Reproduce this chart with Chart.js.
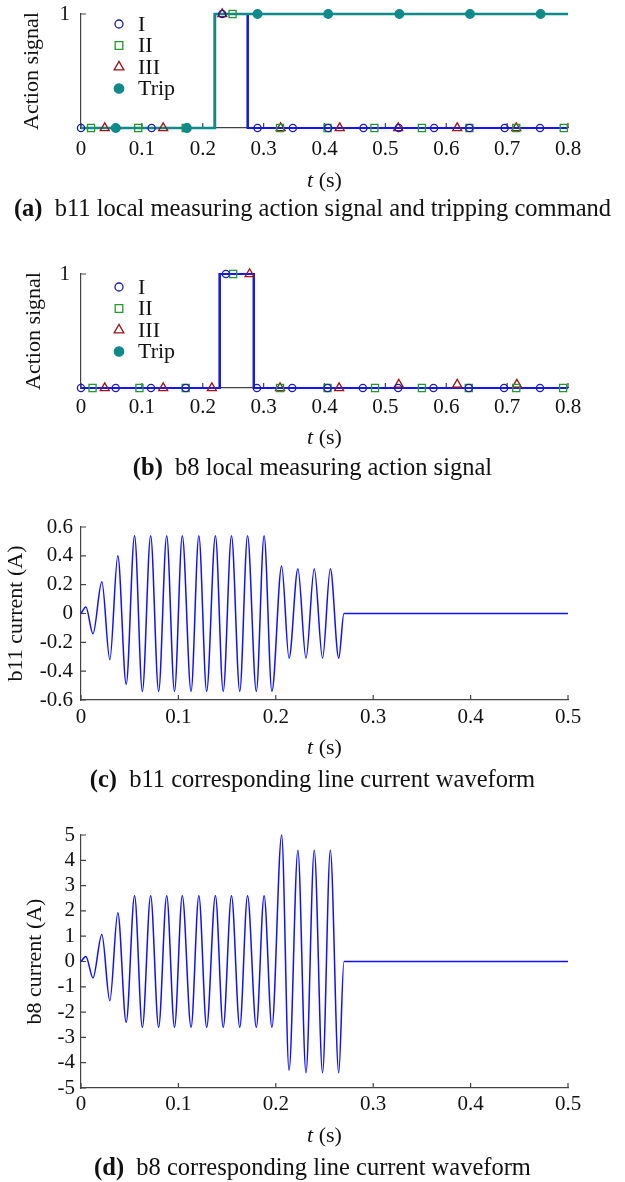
<!DOCTYPE html>
<html>
<head>
<meta charset="utf-8">
<script src="https://cdn.jsdelivr.net/npm/chart.js@4.4.1/dist/chart.umd.min.js"></script>
<style>
  body { margin: 0; background: #fff; width: 625px; height: 1182px; position: relative; overflow: hidden;
         font-family: "Liberation Serif", "Times New Roman", serif; color: #111; }
  canvas { position: absolute; left: 0; }
  .xlab, .cap { position: absolute; text-align: center; white-space: nowrap; line-height: 1; transform: translateY(-50%); }
  .xlab { left: 81px; width: 487px; font-size: 22px; }
  .cap { left: 0; width: 625px; font-size: 24.5px; }
</style>
</head>
<body>
<canvas id="chartA" width="625" height="178" style="top:-10px"></canvas>
<div class="xlab" style="top:180px"><i>t</i> (s)</div>
<div class="cap" style="top:208px"><b>(a)</b>&nbsp; b11 local measuring action signal and tripping command</div>

<canvas id="chartB" width="625" height="188" style="top:240px"></canvas>
<div class="xlab" style="top:437px"><i>t</i> (s)</div>
<div class="cap" style="top:467px"><b>(b)</b>&nbsp; b8 local measuring action signal</div>

<canvas id="chartC" width="625" height="250" style="top:490px"></canvas>
<div class="xlab" style="top:747px"><i>t</i> (s)</div>
<div class="cap" style="top:779px"><b>(c)</b>&nbsp; b11 corresponding line current waveform</div>

<canvas id="chartD" width="625" height="328" style="top:800px"></canvas>
<div class="xlab" style="top:1135px"><i>t</i> (s)</div>
<div class="cap" style="top:1167px"><b>(d)</b>&nbsp; b8 corresponding line current waveform</div>

<script>
// ---- data ---------------------------------------------------------------

// shared axis ticks
const actionXTicks = [0, 0.1, 0.2, 0.3, 0.4, 0.5, 0.6, 0.7, 0.8];
const actionXLabels = ['0', '0.1', '0.2', '0.3', '0.4', '0.5', '0.6', '0.7', '0.8'];
const actionYTicks = [0, 1];
const actionYLabels = ['', '1'];
const waveXTicks = [0, 0.1, 0.2, 0.3, 0.4, 0.5];
const waveXLabels = ['0', '0.1', '0.2', '0.3', '0.4', '0.5'];

// (a) b11: relays I/II/III pick up then drop, trip latches
const aRelayT = [0, 0.22, 0.274, 0.8];
const aRelayV = [0, 1, 0, 0];
const aTripT = [0, 0.22, 0.8];
const aTripV = [0, 1, 1];
const aMarkIT = [0, 0.058, 0.116, 0.174, 0.232, 0.29, 0.348, 0.406, 0.464, 0.522, 0.58, 0.638, 0.696, 0.754];
const aMarkIV = [0, 0, 0, 0, 1, 0, 0, 0, 0, 0, 0, 0, 0, 0];
const aMarkIIT = [0.0165, 0.094, 0.172, 0.249, 0.327, 0.405, 0.482, 0.56, 0.638, 0.715, 0.793];
const aMarkIIV = [0, 0, 0, 1, 0, 0, 0, 0, 0, 0, 0];
const aMarkIIIT = [0.039, 0.135, 0.232, 0.328, 0.425, 0.521, 0.618, 0.715];
const aMarkIIIV = [0, 0, 1, 0, 0, 0, 0, 0];
const aMarkTripT = [0.057, 0.174, 0.29, 0.406, 0.523, 0.639, 0.755];
const aMarkTripV = [0, 0, 1, 1, 1, 1, 1];

// (b) b8: relays pick up briefly, no trip
const bRelayT = [0, 0.228, 0.284, 0.8];
const bRelayV = [0, 1, 0, 0];
const bMarkIT = [0, 0.057, 0.115, 0.172, 0.238, 0.289, 0.347, 0.405, 0.463, 0.521, 0.579, 0.637, 0.695, 0.754];
const bMarkIV = [0, 0, 0, 0, 1, 0, 0, 0, 0, 0, 0, 0, 0, 0];
const bMarkIIT = [0.019, 0.096, 0.172, 0.25, 0.327, 0.405, 0.483, 0.56, 0.637, 0.715, 0.792];
const bMarkIIV = [0, 0, 0, 1, 0, 0, 0, 0, 0, 0, 0];
const bMarkIIIT = [0.039, 0.135, 0.215, 0.277, 0.327, 0.424, 0.522, 0.618, 0.716];
const bMarkIIIV = [0, 0, 0, 1, 0, 0, 0.03, 0.03, 0.03];

// (c)/(d) current waveforms: times of the peaks/troughs, then the cut-off
const waveT = [0, 0.005, 0.0123, 0.0214, 0.0296, 0.0378, 0.0464, 0.055, 0.063, 0.0715, 0.0797,
  0.088, 0.096, 0.104, 0.113, 0.121, 0.129, 0.138, 0.146, 0.1545, 0.163, 0.171, 0.18, 0.188,
  0.196, 0.206, 0.2136, 0.2227, 0.231, 0.2395, 0.248, 0.256, 0.2646, 0.27, 0.5];
const cCurrent = [0, 0.045, -0.14, 0.22, -0.32, 0.40, -0.49, 0.54, -0.54, 0.54, -0.54,
  0.54, -0.54, 0.54, -0.54, 0.54, -0.54, 0.54, -0.54, 0.54, -0.54, 0.54, -0.54, 0.54,
  -0.54, 0.33, -0.31, 0.31, -0.31, 0.31, -0.31, 0.31, -0.31, 0, 0];
const cYTicks = [-0.6, -0.4, -0.2, 0, 0.2, 0.4, 0.6];
const cYLabels = ['-0.6', '-0.4', '-0.2', '0', '0.2', '0.4', '0.6'];
const dCurrent = [0, 0.2, -0.65, 1.07, -1.55, 1.93, -2.4, 2.6, -2.6, 2.6, -2.6,
  2.6, -2.6, 2.6, -2.6, 2.6, -2.6, 2.6, -2.6, 2.6, -2.6, 2.6, -2.6, 2.6,
  -2.6, 5.0, -4.3, 4.4, -4.4, 4.4, -4.4, 4.4, -4.4, 0, 0];
const dYTicks = [-5, -4, -3, -2, -1, 0, 1, 2, 3, 4, 5];
const dYLabels = ['-5', '-4', '-3', '-2', '-1', '0', '1', '2', '3', '4', '5'];

// ---- styling -------------------------------------------------------------
const FONT = '"Liberation Serif", "Times New Roman", serif';
const INK = '#111';
const AXIS = '#444';
const LEGEND_ORDER = ['I', 'II', 'III', 'Trip'];
const STYLE = {
  I:    { pointStyle: 'circle',   radius: 3.6, color: '#1c1ca8', fill: 'rgba(0,0,0,0)', line: '#1414ff' },
  II:   { pointStyle: 'rect',     radius: 5,   color: '#22992a', fill: 'rgba(0,0,0,0)', line: '#22a32a' },
  III:  { pointStyle: 'triangle', radius: 5.2, color: '#9e1414', fill: 'rgba(0,0,0,0)', line: '#a01818' },
  Trip: { pointStyle: 'circle',   radius: 4.3, color: '#0e8a8a', fill: '#0e8a8a', line: '#0e8a8a' },
};

const pts = (xs, ys) => xs.map((x, i) => ({ x, y: ys[i] }));

function markerSet(name, xs, ys) {
  const s = STYLE[name];
  return {
    label: name, data: pts(xs, ys), showLine: false, clip: false,
    pointStyle: s.pointStyle, pointRadius: s.radius, pointHoverRadius: s.radius,
    pointBorderColor: s.color, pointBackgroundColor: s.fill, pointBorderWidth: 1.3,
  };
}

function stepSet(name, xs, ys, width) {
  return {
    label: name + ' line', data: pts(xs, ys), stepped: true, clip: false,
    borderColor: STYLE[name].line, borderWidth: width, pointRadius: 0,
  };
}

function waveSet(xs, ys) {
  return {
    data: pts(xs, ys), cubicInterpolationMode: 'monotone', clip: false,
    borderColor: '#1010ff', borderWidth: 1.5, pointRadius: 0,
  };
}

// short inward tick marks, like the original axes
const innerTicks = {
  id: 'innerTicks',
  beforeDatasetsDraw(chart) {
    const { ctx, chartArea } = chart;
    const { x, y } = chart.scales;
    ctx.save();
    ctx.strokeStyle = AXIS;
    ctx.lineWidth = 1.2;
    ctx.beginPath();
    x.ticks.forEach(t => {
      const px = x.getPixelForValue(t.value);
      ctx.moveTo(px, chartArea.bottom);
      ctx.lineTo(px, chartArea.bottom - 5);
    });
    y.ticks.forEach(t => {
      const py = y.getPixelForValue(t.value);
      ctx.moveTo(chartArea.left, py);
      ctx.lineTo(chartArea.left + 5, py);
    });
    ctx.stroke();
    ctx.restore();
  },
};

// marker-only legend sitting inside the plot area
const insideLegend = {
  id: 'insideLegend',
  afterDatasetsDraw(chart, args, opts) {
    if (!opts || !opts.show) return;
    const { ctx, chartArea } = chart;
    ctx.save();
    ctx.font = '22px ' + FONT;
    ctx.textBaseline = 'middle';
    LEGEND_ORDER.forEach((name, i) => {
      const s = STYLE[name];
      const cx = chartArea.left + opts.left;
      const cy = chartArea.top + opts.top + i * opts.gap;
      ctx.strokeStyle = s.color;
      ctx.fillStyle = s.fill;
      ctx.lineWidth = 1.3;
      Chart.helpers.drawPoint(ctx, { pointStyle: s.pointStyle, radius: s.radius + 0.4, borderWidth: 1.3, rotation: 0 }, cx, cy);
      ctx.fillStyle = INK;
      ctx.fillText(name, chartArea.left + opts.textLeft, cy + 1);
    });
    ctx.restore();
  },
};

function makeChart(id, { datasets, top, xMax, xTicks, xLabels, xPad, yMin, yMax, yTicks, yLabels, yPad, yTitle, yTitlePad, legend }) {
  const tickFont = { family: FONT, size: 21 };
  return new Chart(document.getElementById(id), {
    type: 'line',
    data: { datasets },
    plugins: [innerTicks, insideLegend],
    options: {
      responsive: false,
      animation: false,
      events: [],
      layout: { padding: { top, right: 57, bottom: 0, left: 0 } },
      plugins: {
        legend: { display: false },
        tooltip: { enabled: false },
        insideLegend: legend || { show: false },
      },
      scales: {
        x: {
          type: 'linear', min: 0, max: xMax,
          afterBuildTicks: s => { s.ticks = xTicks.map(v => ({ value: v })); },
          afterFit: s => { s.height = 40; },
          ticks: { padding: xPad, font: tickFont, color: INK, autoSkip: false, maxRotation: 0,
                   callback: (v, i) => xLabels[i] },
          grid: { drawOnChartArea: false, drawTicks: false },
          border: { color: AXIS, width: 1.2 },
        },
        y: {
          type: 'linear', min: yMin, max: yMax,
          afterBuildTicks: s => { s.ticks = yTicks.map(v => ({ value: v })); },
          afterFit: s => { s.width = 81; },
          ticks: { padding: yPad, font: tickFont, color: INK, autoSkip: false,
                   callback: (v, i) => yLabels[i] },
          grid: { drawOnChartArea: false, drawTicks: false },
          border: { color: AXIS, width: 1.2 },
          title: { display: true, text: yTitle, color: INK, font: { family: FONT, size: 22 },
                   padding: { top: yTitlePad, bottom: 0 } },
        },
      },
    },
  });
}

// (a) — canvas starts 10px above the page so the plot top lands at y=14
makeChart('chartA', {
  datasets: [
    markerSet('Trip', aMarkTripT, aMarkTripV),
    markerSet('I', aMarkIT, aMarkIV),
    markerSet('II', aMarkIIT, aMarkIIV),
    markerSet('III', aMarkIIIT, aMarkIIIV),
    stepSet('Trip', aTripT, aTripV, 2.5),
    stepSet('I', aRelayT, aRelayV, 2.2),
    stepSet('II', aRelayT, aRelayV, 2.2),
    stepSet('III', aRelayT, aRelayV, 2.2),
  ],
  top: 24, xMax: 0.8, xTicks: actionXTicks, xLabels: actionXLabels, xPad: 9,
  yMin: 0, yMax: 1, yTicks: actionYTicks, yLabels: actionYLabels, yPad: 11,
  yTitle: 'Action signal', yTitlePad: 19,
  legend: { show: true, left: 38, textLeft: 57, top: 10, gap: 21.5 },
});

// (b)
makeChart('chartB', {
  datasets: [
    markerSet('I', bMarkIT, bMarkIV),
    markerSet('II', bMarkIIT, bMarkIIV),
    markerSet('III', bMarkIIIT, bMarkIIIV),
    stepSet('I', bRelayT, bRelayV, 2.2),
    stepSet('II', bRelayT, bRelayV, 2.2),
    stepSet('III', bRelayT, bRelayV, 2.2),
  ],
  top: 34, xMax: 0.8, xTicks: actionXTicks, xLabels: actionXLabels, xPad: 7,
  yMin: 0, yMax: 1, yTicks: actionYTicks, yLabels: actionYLabels, yPad: 11,
  yTitle: 'Action signal', yTitlePad: 21,
  legend: { show: true, left: 38, textLeft: 57, top: 13, gap: 21.5 },
});

// (c)
makeChart('chartC', {
  datasets: [waveSet(waveT, cCurrent)],
  top: 37, xMax: 0.5, xTicks: waveXTicks, xLabels: waveXLabels, xPad: 5,
  yMin: -0.6, yMax: 0.6, yTicks: cYTicks, yLabels: cYLabels, yPad: 8,
  yTitle: 'b11 current (A)', yTitlePad: 3,
});

// (d)
makeChart('chartD', {
  datasets: [waveSet(waveT, dCurrent)],
  top: 35, xMax: 0.5, xTicks: waveXTicks, xLabels: waveXLabels, xPad: 4,
  yMin: -5, yMax: 5, yTicks: dYTicks, yLabels: dYLabels, yPad: 6,
  yTitle: 'b8 current (A)', yTitlePad: 22,
});
</script>
</body>
</html>
